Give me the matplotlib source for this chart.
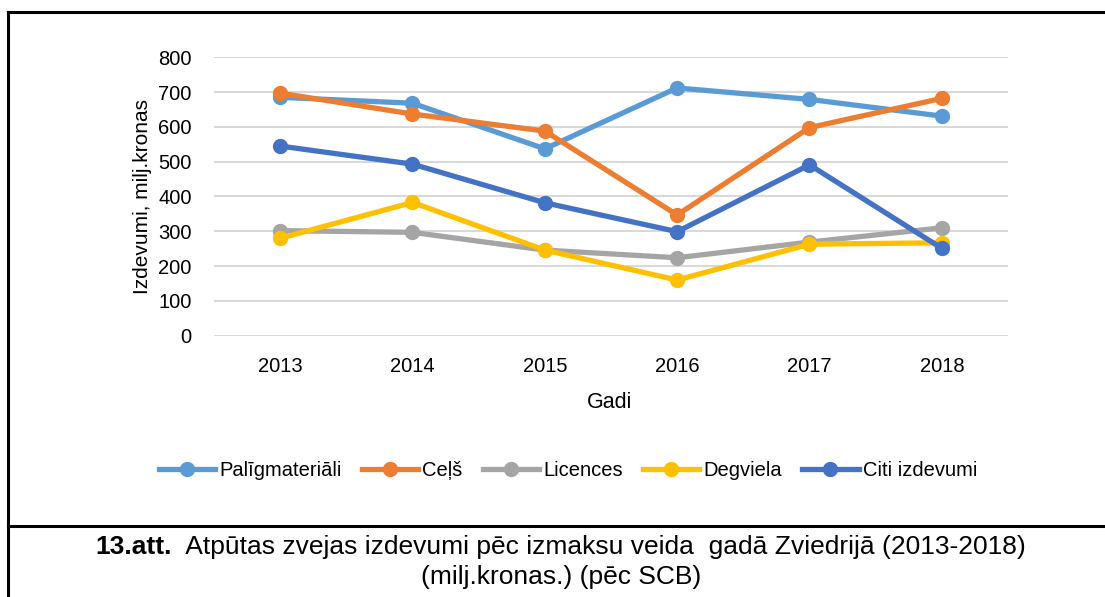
"""
Atpūtas zvejas izdevumi pēc izmaksu veida, Zviedrija 2013-2018
"""

import matplotlib.pyplot as plt
from matplotlib.lines import Line2D

plt.rcParams['font.family'] = ['Liberation Sans', 'DejaVu Sans']

years = ['2013', '2014', '2015', '2016', '2017', '2018']
palig = [685, 668, 537, 712, 679, 631]
celsh = [697, 637, 588, 347, 598, 682]
licences = [302, 297, 246, 224, 269, 310]
degviela = [280, 383, 246, 160, 263, 267]
citi = [545, 493, 382, 299, 491, 251]

names = ['Palīgmateriāli', 'Ceļš', 'Licences', 'Degviela', 'Citi izdevumi']
colors = ['#5B9BD5', '#ED7D31', '#A5A5A5', '#FFC000', '#4472C4']
series = [palig, celsh, licences, degviela, citi]
yticks = [0, 100, 200, 300, 400, 500, 600, 700, 800]

fig = plt.figure(figsize=(11.05, 5.97), dpi=100)
ax = fig.add_axes([214/1105, 1 - 335.7/597, (1008-214)/1105, (335.7-57.3)/597])

x = list(range(len(years)))
for vals, name, c in zip(series, names, colors):
    ax.plot(x, vals, color=c, linewidth=3.8, marker='o', markersize=10,
            solid_capstyle='round', label=name)

ax.set_xlim(-0.5, len(years) - 0.5)
ax.set_ylim(0, 800)
ax.set_yticks(yticks)
ax.set_xticks(x)
ax.set_xticklabels(years)
ax.tick_params(axis='both', length=0, labelsize=14.5)
ax.tick_params(axis='y', pad=16)
ax.tick_params(axis='x', pad=15)
ax.grid(axis='y', color='#D9D9D9', linewidth=1.5)
ax.set_axisbelow(True)
for s in ax.spines.values():
    s.set_visible(False)

fig.text(143/1105, 1 - 196/597, 'Izdevumi, milj.kronas', fontsize=15,
         rotation=90, ha='center', va='center')
fig.text(610/1105, 1 - 403/597, 'Gadi', fontsize=15.5, ha='center', va='center')

handles = [Line2D([], [], color=c, linewidth=3.8, marker='o', markersize=10)
           for c in colors]
fig.legend(handles, names, loc='center', bbox_to_anchor=(568/1105, 1 - 471/597),
           ncol=5, frameon=False, fontsize=14.5, handlelength=2.8,
           handletextpad=0.2, columnspacing=1.0)

# frame lines
fig.add_artist(Line2D([8/1105, 8/1105], [0, 1 - 12/597], color='black', linewidth=2.2,
                      transform=fig.transFigure))
fig.add_artist(Line2D([8/1105, 1], [1 - 12/597, 1 - 12/597], color='black', linewidth=2.2,
                      transform=fig.transFigure))
fig.add_artist(Line2D([8/1105, 1], [1 - 526/597, 1 - 526/597], color='black', linewidth=2.2,
                      transform=fig.transFigure))

# caption
fig.canvas.draw()
r = fig.canvas.get_renderer()
y1 = 1 - 547/597
t1 = fig.text(0, y1, '13.att.', fontsize=19, fontweight='bold', va='center')
t2 = fig.text(0, y1, '  Atpūtas zvejas izdevumi pēc izmaksu veida  gadā Zviedrijā (2013-2018)',
              fontsize=19, va='center')
w1 = t1.get_window_extent(r).width / 1105
w2 = t2.get_window_extent(r).width / 1105
x0 = 561/1105 - (w1 + w2) / 2
t1.set_x(x0)
t2.set_x(x0 + w1)
fig.text(561/1105, 1 - 577/597, '(milj.kronas.) (pēc SCB)', fontsize=19,
         ha='center', va='center')

plt.savefig('out.png', dpi=100)
